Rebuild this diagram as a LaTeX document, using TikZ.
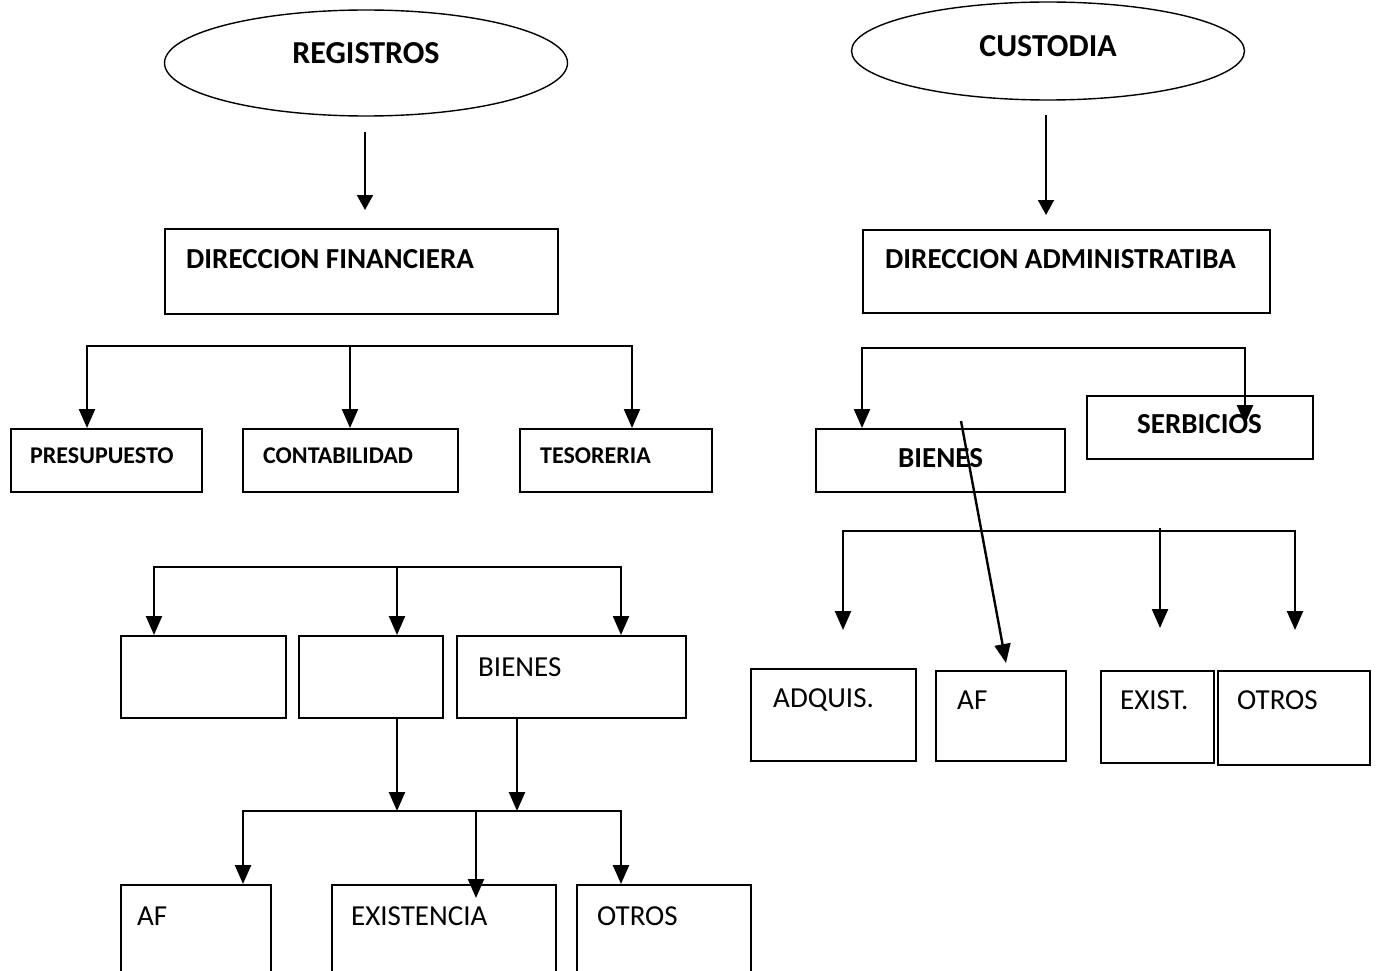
\documentclass[tikz,border=0pt]{standalone}
\usepackage{fontspec}
\setmainfont{Carlito}
\usetikzlibrary{shapes.geometric,arrows.meta,calc}

\begin{document}
\begin{tikzpicture}[x=1pt,y=-1pt,
  box/.style={draw, line width=2pt, inner sep=0pt, anchor=north west},
  oval/.style={draw, ellipse, line width=1.4pt, inner sep=0pt},
  headc/.style={font=\fontsize{32}{36}\selectfont\bfseries, inner sep=0pt, anchor=base},
  head/.style={font=\fontsize{29}{34}\selectfont\bfseries, inner sep=0pt, anchor=base west},
  small/.style={font=\fontsize{24}{28}\selectfont\bfseries, inner sep=0pt, anchor=base west},
  plainlbl/.style={font=\fontsize{29}{34}\selectfont, inner sep=0pt, anchor=base west},
  link/.style={line width=2.4pt, -{Triangle[length=19pt,width=16pt]}},
  toplink/.style={line width=1.8pt, -{Triangle[length=15pt,width=16pt]}},
  bar/.style={line width=2.4pt, line cap=rect},
]
\useasboundingbox (0,0) rectangle (1378,971);
\clip (0,0) rectangle (1378,971);

% ---------------- left column: REGISTROS ----------------
\node[oval, minimum width=403pt, minimum height=106pt] (reg) at (366,63) {};
\node[headc] (regt) at (366,64) {REGISTROS};

\node[box, minimum width=393pt, minimum height=85pt] (df) at (164,228) {};
\node[head] (dft) at (186,268) {DIRECCION FINANCIERA};

\coordinate (regarr) at (365,132);
\draw[toplink] (regarr) -- (365,210);

% first branch
\node[box, minimum width=191pt, minimum height=63pt] (pres) at (10,428) {};
\node[box, minimum width=215pt, minimum height=63pt] (cont) at (242,428) {};
\node[box, minimum width=192pt, minimum height=63pt] (teso) at (519,428) {};
\node[small] (prest) at (30,463) {PRESUPUESTO};
\node[small] (contt) at (263,463) {CONTABILIDAD};
\node[small] (tesot) at (540,463) {TESORERIA};

\coordinate (fa) at (87,346);
\coordinate (fb) at (350,346);
\coordinate (fc) at (632,346);
\draw[bar] (fa) -- (fc);
\draw[link] (fa) -- (fa |- pres.north);
\draw[link] (fb) -- (fb |- cont.north);
\draw[link] (fc) -- (fc |- teso.north);

% second branch
\node[box, minimum width=165pt, minimum height=82pt] (ba) at (120,635) {};
\node[box, minimum width=144pt, minimum height=82pt] (bb) at (298,635) {};
\node[box, minimum width=229pt, minimum height=82pt] (bc) at (456,635) {};
\node[plainlbl] (bct) at (478,676) {BIENES};

\coordinate (ga) at (154,567);
\coordinate (gb) at (397,567);
\coordinate (gc) at (621,567);
\draw[bar] (ga) -- (gc);
\draw[link] (ga) -- (ga |- ba.north);
\draw[link] (gb) -- (gb |- bb.north);
\draw[link] (gc) -- (gc |- bc.north);

% third branch
\node[box, minimum width=150pt, minimum height=120pt] (af) at (120,884) {};
\node[box, minimum width=224pt, minimum height=120pt] (ex) at (331,884) {};
\node[box, minimum width=174pt, minimum height=120pt] (ot) at (576,884) {};
\node[plainlbl] (aft) at (137,925) {AF};
\node[plainlbl] (ext) at (351,925) {EXISTENCIA};
\node[plainlbl] (ott) at (597,925) {OTROS};

\coordinate (ha) at (243,811);
\coordinate (hb) at (476,811);
\coordinate (hc) at (621,811);
\coordinate (hbend) at (476,898);
\draw[link] (bb.south -| gb) -- (gb |- ha);
\draw[link] (bc.south -| 517,0) -- (517,811);
\draw[bar] (ha) -- (hc);
\draw[link] (ha) -- (ha |- af.north);
\draw[link] (hb) -- (hbend);
\draw[link] (hc) -- (hc |- ot.north);

% ---------------- right column: CUSTODIA ----------------
\node[oval, minimum width=393pt, minimum height=98pt] (cus) at (1048,51) {};
\node[headc] (cust) at (1048,57) {CUSTODIA};

\node[box, minimum width=407pt, minimum height=83pt] (da) at (862,229) {};
\node[head] (dat) at (885,268) {DIRECCION ADMINISTRATIBA};

\coordinate (cusarr) at (1046,115);
\draw[toplink] (cusarr) -- (1046,215);

% first branch
\node[box, minimum width=249pt, minimum height=63pt] (bi) at (815,428) {};
\node[box, minimum width=226pt, minimum height=63pt] (se) at (1086,395) {};
\node[head] (bit) at (898,467) {BIENES};
\node[head] (set) at (1137,433) {SERBICIOS};

\coordinate (ka) at (862,348);
\coordinate (kb) at (1245,348);
\coordinate (kbend) at (1245,424);
\draw[bar] (ka) -- (kb);
\draw[link] (ka) -- (ka |- bi.north);
\draw[link] (kb) -- (kbend);

% second branch
\node[box, minimum width=165pt, minimum height=92pt] (adq) at (750,668) {};
\node[box, minimum width=130pt, minimum height=90pt] (af2) at (935,670) {};
\node[box, minimum width=113pt, minimum height=92pt] (ex2) at (1100,670) {};
\node[box, minimum width=152pt, minimum height=94pt] (ot2) at (1217,670) {};
\node[plainlbl] (adqt) at (773,707) {ADQUIS.};
\node[plainlbl] (af2t) at (957,709) {AF};
\node[plainlbl] (ex2t) at (1120,709) {EXIST.};
\node[plainlbl] (ot2t) at (1237,709) {OTROS};

\coordinate (ma) at (843,531);
\coordinate (mb) at (1160,528);
\coordinate (mc) at (1295,531);
\draw[bar] (ma) -- (mc);
\draw[link] (ma) -- (843,630);
\draw[link] (mb) -- (1160,628);
\draw[link] (mc) -- (1295,630);

% slanted connector crossing BIENES
\coordinate (sa) at (961,421);
\draw[link] (sa) -- (1006,663);
\end{tikzpicture}
\end{document}
